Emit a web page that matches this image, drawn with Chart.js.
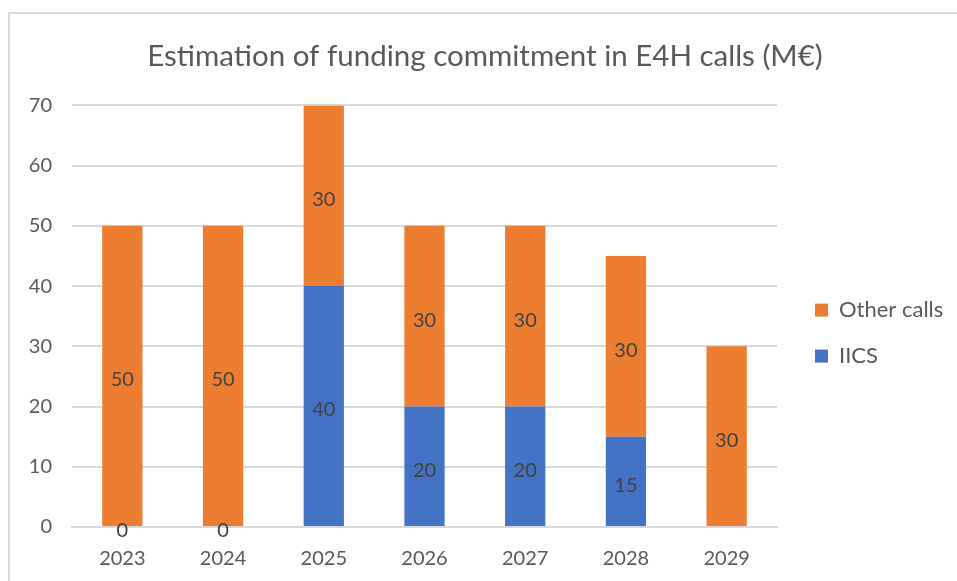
<!DOCTYPE html>
<html>
<head>
<meta charset="utf-8">
<script src="https://cdn.jsdelivr.net/npm/chart.js@4"></script>
<style>
  html, body { margin: 0; padding: 0; background: #fff; overflow: hidden; }
  #frame {
    position: absolute; left: 8px; top: 12px; width: 960px; height: 580px;
    border-left: 2px solid #d9d9d9; border-top: 2px solid #d9d9d9;
  }
  #wrap { position: absolute; left: 10px; top: 14px; width: 947px; height: 567px; }
</style>
</head>
<body>
<div id="frame"></div>
<div id="wrap"><canvas id="chart"></canvas></div>
<script>
// ── data ──
const years = ['2023', '2024', '2025', '2026', '2027', '2028', '2029'];
const iics = [0, 0, 40, 20, 20, 15, null];
const otherCalls = [50, 50, 30, 30, 30, 30, 30];
const yTicks = [0, 10, 20, 30, 40, 50, 60, 70];

const FONT = "Lato, 'Open Sans', sans-serif";
const TEXT = '#595959';

// value labels centred in each bar segment
const barLabels = {
  id: 'barLabels',
  afterDatasetsDraw(chart) {
    const ctx = chart.ctx;
    ctx.save();
    ctx.font = '20px ' + FONT;
    ctx.fillStyle = '#404040';
    ctx.textAlign = 'center';
    ctx.textBaseline = 'middle';
    chart.data.datasets.forEach((ds, i) => {
      chart.getDatasetMeta(i).data.forEach((bar, j) => {
        const v = ds.data[j];
        if (v === null || v === undefined) return;
        const p = bar.getProps(['x', 'y', 'base'], true);
        ctx.fillText(String(v), p.x, (p.y + p.base) / 2 + 4);
      });
    });
    ctx.restore();
  }
};

new Chart(document.getElementById('chart'), {
  type: 'bar',
  data: {
    labels: years,
    datasets: [
      { label: 'IICS', data: iics, backgroundColor: '#4472c4' },
      { label: 'Other calls', data: otherCalls, backgroundColor: '#ed7d31' }
    ]
  },
  options: {
    responsive: true,
    maintainAspectRatio: false,
    animation: false,
    datasets: { bar: { categoryPercentage: 1, barPercentage: 0.4 } },
    layout: { padding: { left: 16, right: 13, top: 0, bottom: 0 } },
    plugins: {
      title: {
        display: true,
        text: 'Estimation of funding commitment in E4H calls (M€)',
        color: TEXT,
        font: { family: FONT, size: 29.5, weight: 'normal' },
        padding: { top: 25, bottom: 31 }
      },
      legend: {
        position: 'right',
        reverse: true,
        // empty title only pushes the legend items down
        title: { display: true, text: '', font: { size: 1 }, padding: { top: 70, bottom: 0 } },
        labels: {
          color: TEXT,
          font: { family: FONT, size: 22 },
          boxWidth: 13,
          boxHeight: 13,
          padding: 24
        }
      },
      tooltip: { enabled: false }
    },
    scales: {
      x: {
        stacked: true,
        afterFit(axis) { axis.height = 54; },
        grid: { display: false, drawTicks: false },
        border: { color: '#d9d9d9', width: 2 },
        ticks: { color: TEXT, font: { family: FONT, size: 20 }, padding: 20 }
      },
      y: {
        stacked: true,
        min: 0,
        max: 70,
        afterBuildTicks(axis) { axis.ticks = yTicks.map(v => ({ value: v })); },
        afterFit(axis) { axis.width = 46; },
        grid: { color: '#d9d9d9', lineWidth: 2, drawTicks: false },
        border: { display: false },
        ticks: { color: TEXT, font: { family: FONT, size: 20 }, padding: 20 }
      },
      // blank spacer between plot area and legend
      gap: {
        position: 'right',
        afterFit(axis) { axis.width = 14; },
        grid: { display: false },
        border: { display: false },
        ticks: { display: false }
      }
    }
  },
  plugins: [barLabels]
});
</script>
</body>
</html>
